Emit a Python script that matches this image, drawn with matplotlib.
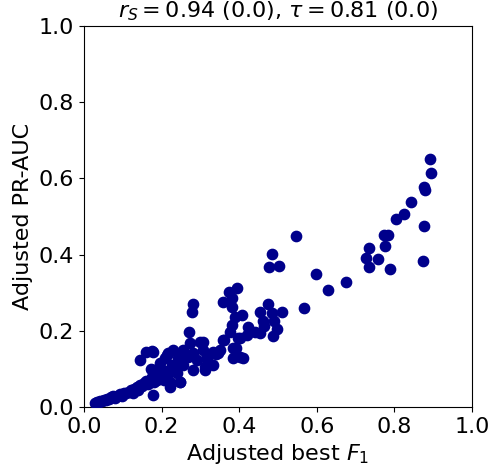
import matplotlib
matplotlib.use("Agg")
import matplotlib.pyplot as plt

x_f1 = [
    0.892, 0.894, 0.876, 0.879, 0.843, 0.825, 0.804, 0.876, 0.773, 0.784,
    0.735, 0.776, 0.727, 0.758, 0.735, 0.789, 0.874, 0.598, 0.629, 0.675,
    0.546, 0.485, 0.477, 0.503, 0.567, 0.394, 0.374, 0.381, 0.358, 0.381,
    0.474, 0.454, 0.485, 0.510, 0.407, 0.389, 0.461, 0.490, 0.381, 0.464,
    0.423, 0.497, 0.376, 0.441, 0.420, 0.454, 0.487, 0.402, 0.361, 0.392,
    0.384, 0.410, 0.307, 0.340, 0.317, 0.332, 0.312,
    0.281, 0.278, 0.271, 0.160, 0.175, 0.144, 0.173, 0.299, 0.273, 0.229,
    0.214, 0.247, 0.178, 0.222,
    0.397, 0.358, 0.384, 0.307, 0.332, 0.345, 0.402, 0.178, 0.255, 0.216,
    0.281, 0.209, 0.242, 0.268, 0.291, 0.320, 0.196, 0.227, 0.255, 0.281,
    0.312, 0.178, 0.209, 0.240, 0.188, 0.222, 0.247, 0.232, 0.350,
    0.028, 0.033, 0.038, 0.042, 0.047, 0.052, 0.056, 0.060, 0.065, 0.070,
    0.075, 0.080, 0.085, 0.092, 0.098, 0.103, 0.108, 0.115, 0.120, 0.126,
    0.130, 0.136, 0.140, 0.145, 0.150, 0.155, 0.160, 0.165, 0.170, 0.175,
    0.180, 0.185, 0.190, 0.195, 0.200, 0.205, 0.210, 0.215,
]
y_prauc = [
    0.651, 0.614, 0.577, 0.570, 0.538, 0.507, 0.493, 0.475, 0.451, 0.451,
    0.417, 0.422, 0.391, 0.388, 0.367, 0.362, 0.383, 0.349, 0.307, 0.328,
    0.449, 0.402, 0.367, 0.370, 0.260, 0.312, 0.302, 0.286, 0.276, 0.262,
    0.270, 0.249, 0.247, 0.249, 0.241, 0.236, 0.226, 0.226, 0.215, 0.213,
    0.210, 0.205, 0.197, 0.197, 0.189, 0.194, 0.186, 0.181, 0.176, 0.155,
    0.129, 0.129, 0.171, 0.139, 0.131, 0.110, 0.105,
    0.270, 0.249, 0.197, 0.144, 0.147, 0.123, 0.100, 0.171, 0.168, 0.150,
    0.136, 0.066, 0.031, 0.052,
    0.181, 0.176, 0.155, 0.150, 0.144, 0.142, 0.131, 0.144, 0.150, 0.142,
    0.142, 0.129, 0.129, 0.131, 0.123, 0.118, 0.115, 0.110, 0.110, 0.097,
    0.097, 0.097, 0.092, 0.089, 0.071, 0.066, 0.066, 0.105, 0.150,
    0.010, 0.013, 0.012, 0.016, 0.015, 0.019, 0.018, 0.022, 0.020, 0.025,
    0.028, 0.023, 0.030, 0.034, 0.030, 0.038, 0.036, 0.040, 0.044, 0.038,
    0.048, 0.052, 0.045, 0.058, 0.054, 0.062, 0.068, 0.060, 0.072, 0.078,
    0.065, 0.083, 0.075, 0.088, 0.080, 0.070, 0.095, 0.085,
]

ticks = [0.0, 0.2, 0.4, 0.6, 0.8, 1.0]

fig = plt.figure(figsize=(4.91, 4.69), dpi=100)
ax = fig.add_axes([84/491, 62/469, 388/491, 381/469])
ax.scatter(x_f1, y_prauc, s=55, color="darkblue", zorder=3)
ax.set_xlim(0, 1)
ax.set_ylim(0, 1)
ax.set_xticks(ticks)
ax.set_yticks(ticks)
ax.tick_params(labelsize=16)
ax.set_xlabel("Adjusted best $F_1$", fontsize=16)
ax.set_ylabel("Adjusted PR-AUC", fontsize=16)
ax.set_title(r"$r_S = 0.94$ (0.0), $\tau = 0.81$ (0.0)", fontsize=16)
fig.savefig("out.png", dpi=100)
